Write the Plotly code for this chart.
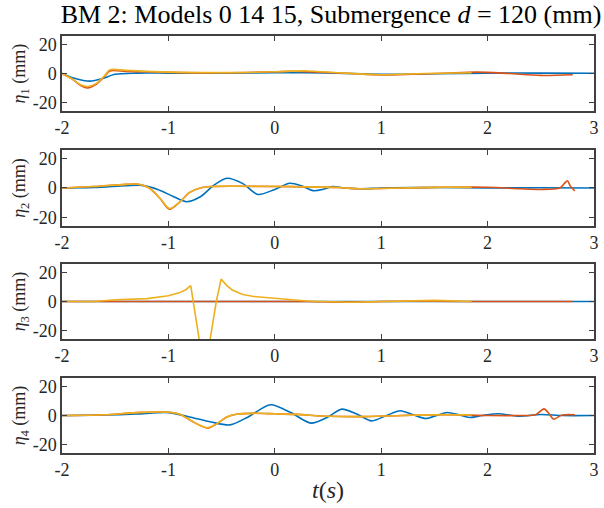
import plotly.graph_objects as go
from plotly.subplots import make_subplots

# ---------------- data ----------------
# Panel 1 (eta_1)
t1_blue = [-2, -1.9, -1.8, -1.72, -1.62, -1.5, -1.3, -1, -0.5, 0, 0.5, 1, 1.5, 2, 2.5, 3]
v1_blue = [0, -3, -4.8, -5.2, -3.5, -0.5, 0.3, 0.3, 0.3, 0.5, 0.4, -0.5, -0.2, 0.3, 0.3, 0.2]
t1_orange = [-2, -1.9, -1.82, -1.76, -1.68, -1.6, -1.55, -1.4, -1.2, -1, -0.5, 0, 0.15, 0.4, 0.7, 1, 1.3, 1.6, 1.9, 2.2, 2.5, 2.8]
v1_orange = [0, -4, -8.5, -10, -7.5, -2, 1.8, 1.5, 1.2, 0.8, 0.5, 1.2, 1.6, 1, 0, -1, -0.5, 0.2, 1, 0, -1.3, -0.8]
t1_yellow = [-2, -1.9, -1.82, -1.76, -1.68, -1.6, -1.55, -1.4, -1.2, -1, -0.5, 0, 0.3, 0.6, 1, 1.4, 1.85]
v1_yellow = [0, -4, -8, -9, -7, -1.5, 2.6, 2.2, 1.5, 1, 0.6, 1.2, 1.8, 0.5, -0.8, 0, 0.5]

# Panel 2 (eta_2)
t2_blue = [-2, -1.7, -1.4, -1.25, -1.1, -0.95, -0.83, -0.7, -0.58, -0.45, -0.3, -0.16, 0, 0.14, 0.25, 0.36, 0.45, 0.54, 0.65, 0.8, 1, 1.5, 2, 2.5, 3]
v2_blue = [0, 0.3, 1.5, 1.8, -1, -6, -9.4, -6, 1.5, 6.7, 3, -4.4, -1, 3.2, 1.5, -1.8, -1, 1, 0, -0.5, 0, 0.3, 0, 0.2, 0]
t2_orange = [-2, -1.7, -1.4, -1.28, -1.18, -1.08, -0.99, -0.9, -0.8, -0.7, -0.6, -0.4, 0, 0.3, 0.6, 0.8, 1.2, 1.6, 2, 2.3, 2.5, 2.68, 2.72, 2.75, 2.78, 2.82]
v2_orange = [0, 1, 2.5, 2.6, 0, -7, -14.5, -10, -3, 0, 1, 1.2, 1, 0.8, 0.3, -0.5, 0, 0.5, 0.5, -0.5, -1, 0, 3, 5, 1, -2]
t2_yellow = [-2, -1.7, -1.4, -1.28, -1.18, -1.08, -0.99, -0.9, -0.8, -0.7, -0.6, -0.4, 0, 0.3, 0.6, 0.8, 1.2, 1.6, 1.85]
v2_yellow = [0, 1, 2.5, 2.6, 0, -7, -14, -10, -3, 0, 1, 1.3, 1.1, 0.8, 0.3, -0.5, 0, 0.6, 0.4]

# Panel 3 (eta_3)
t3_blue = [-2, 3]
v3_blue = [0, 0]
t3_orange = [-2, -1.6, 0, 0.3, 0.65, 1, 1.5, 1.8, 2.8]
v3_orange = [0, 0, 0, 0, -0.4, 0, 0.3, 0, 0]
t3_yellow = [-2, -1.7, -1.5, -1.2, -1.0, -0.9, -0.84, -0.79, -0.66, -0.55, -0.505, -0.45, -0.4, -0.3, -0.2, -0.1, 0, 0.15, 0.3, 0.7, 1.1, 1.5, 1.85]
v3_yellow = [0, 0, 1.2, 2, 4, 6, 8, 11, -50, 0, 15.5, 11, 8, 4.8, 3.5, 2.8, 2, 1, 0.3, -0.5, 0.2, 0.8, 0]

# Panel 4 (eta_4)
t4_blue = [-2, -1.6, -1.3, -1.0, -0.8, -0.6, -0.42, -0.25, -0.04, 0.15, 0.34, 0.5, 0.63, 0.77, 0.91, 1.05, 1.18, 1.3, 1.42, 1.52, 1.62, 1.73, 1.83, 1.95, 2.1, 2.3, 2.5, 2.7, 3]
v4_blue = [0, 0.3, 1, 2, -1, -4.5, -6.5, -1, 7.4, 2, -5.3, -1, 4.4, 1, -3.7, 0, 3.3, 0.5, -2.1, 0, 2.1, 0.5, -1.4, 0, 1.2, -0.5, 0.7, 0, 0]
t4_orange = [-2, -1.6, -1.3, -1.0, -0.9, -0.8, -0.7, -0.63, -0.55, -0.45, -0.35, -0.2, 0, 0.2, 0.5, 0.8, 1.2, 1.6, 2, 2.3, 2.45, 2.53, 2.58, 2.62, 2.7, 2.82]
v4_orange = [0, 0.5, 2, 2.2, 1, -3, -7, -8.8, -6, -1, 1, 1.5, 1.2, 0.8, -0.5, -0.8, 0, 0.5, 0, 0, 0.5, 4.6, 1, -2.5, 0.3, 0.5]
t4_yellow = [-2, -1.6, -1.3, -1.0, -0.9, -0.8, -0.7, -0.63, -0.55, -0.45, -0.35, -0.2, 0, 0.2, 0.5, 0.8, 1.2, 1.6, 1.85]
v4_yellow = [0, 0.5, 2, 2.2, 1, -3, -7, -8.5, -6, -1, 1, 1.5, 1.2, 0.8, -0.5, -0.8, 0, 0.6, 0.3]

x_ticks = [-2, -1, 0, 1, 2, 3]
y_ticks = [-20, 0, 20]
y_labels = ["<i>η</i><sub>1</sub> (mm)", "<i>η</i><sub>2</sub> (mm)",
            "<i>η</i><sub>3</sub> (mm)", "<i>η</i><sub>4</sub> (mm)"]

BLUE, ORANGE, YELLOW = "#0072BD", "#D95319", "#EDB120"
FONT = "Liberation Serif, Times New Roman, serif"

panels = [
    [(t1_blue, v1_blue, BLUE, "spline"), (t1_orange, v1_orange, ORANGE, "spline"), (t1_yellow, v1_yellow, YELLOW, "spline")],
    [(t2_blue, v2_blue, BLUE, "spline"), (t2_orange, v2_orange, ORANGE, "spline"), (t2_yellow, v2_yellow, YELLOW, "spline")],
    [(t3_blue, v3_blue, BLUE, "linear"), (t3_orange, v3_orange, ORANGE, "spline"), (t3_yellow, v3_yellow, YELLOW, "linear")],
    [(t4_blue, v4_blue, BLUE, "spline"), (t4_orange, v4_orange, ORANGE, "spline"), (t4_yellow, v4_yellow, YELLOW, "spline")],
]

fig = make_subplots(rows=4, cols=1)

for i, traces in enumerate(panels, start=1):
    for t, v, c, shape in traces:
        fig.add_trace(go.Scatter(x=t, y=v, mode="lines",
                                 line=dict(color=c, width=1.6, shape=shape, smoothing=0.8),
                                 showlegend=False, hoverinfo="skip"), row=i, col=1)

domains = [[0.820, 1.0], [0.5444, 0.7266], [0.2734, 0.4532], [0.0, 0.1799]]

axis_common = dict(showline=True, linecolor="#404040", linewidth=1.5, mirror="ticks",
                   ticks="inside", ticklen=5, tickwidth=1, tickcolor="#404040",
                   showgrid=False, zeroline=False, ticklabeloverflow="allow",
                   tickfont=dict(family=FONT, size=18, color="#262626"))

for i in range(4):
    xa = "xaxis" if i == 0 else f"xaxis{i+1}"
    ya = "yaxis" if i == 0 else f"yaxis{i+1}"
    fig.layout[xa].update(range=[-2, 3], tickmode="array", tickvals=x_ticks,
                          ticktext=[str(v) for v in x_ticks], **axis_common)
    fig.layout[ya].update(range=[-26, 26], tickmode="array", tickvals=y_ticks,
                          ticktext=[str(v) for v in y_ticks], domain=domains[i],
                          title=dict(text=y_labels[i], standoff=2,
                                     font=dict(family=FONT, size=18, color="#262626")),
                          **axis_common)

# x-axis label placed as an annotation just below the last panel
fig.add_annotation(text="<i>t</i>(<i>s</i>)", xref="paper", yref="paper",
                   x=0.5, y=-0.088, xanchor="center", yanchor="middle", showarrow=False,
                   font=dict(family=FONT, size=24, color="#262626"))

fig.update_layout(
    width=604, height=508,
    margin=dict(l=62, r=5, t=36, b=55),
    paper_bgcolor="white", plot_bgcolor="white",
    title=dict(text="BM 2: Models 0 14 15, Submergence <i>d</i> = 120 (mm)",
               x=0.548, xanchor="center", y=0.972, yanchor="middle",
               font=dict(family=FONT, size=26, color="black")),
)

fig.write_html("out.html", config={"displayModeBar": False},
               post_script="document.body.style.margin='0';document.body.style.overflow='hidden';")
